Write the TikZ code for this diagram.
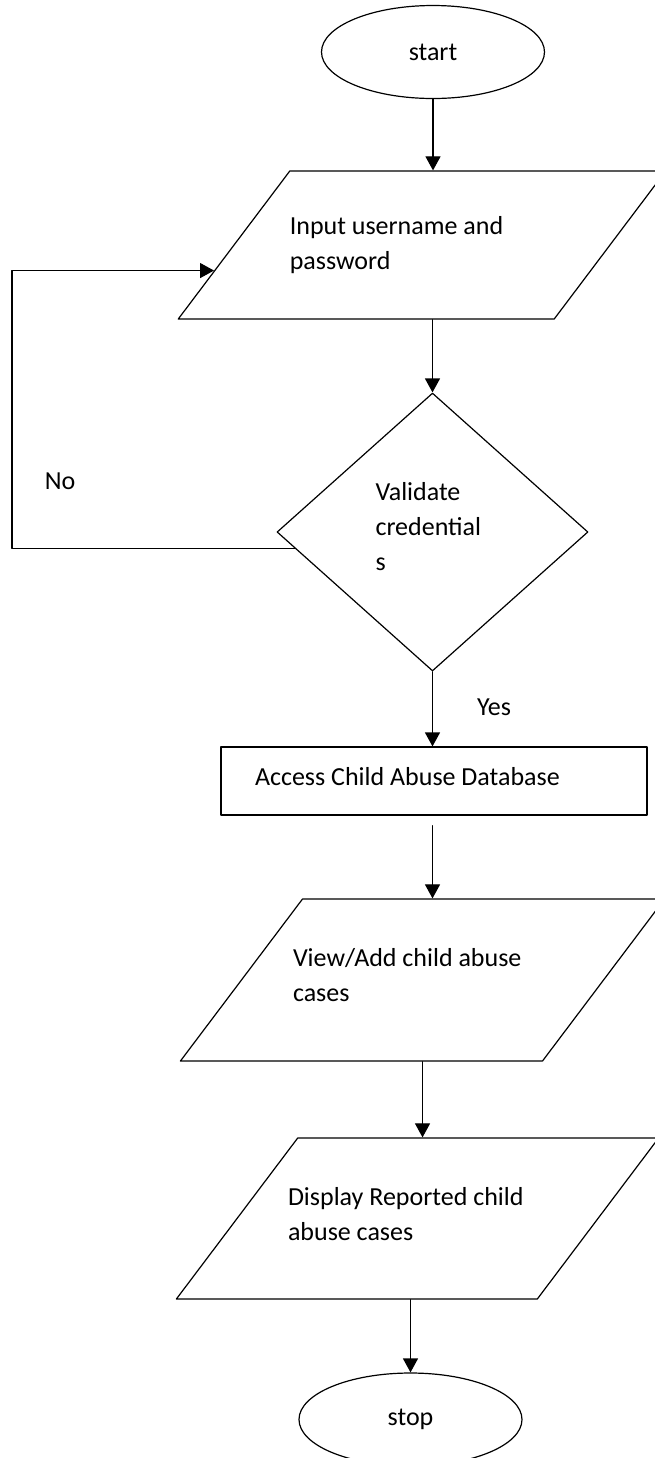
\documentclass[tikz,border=0pt]{standalone}
\usepackage{fontspec}
\setmainfont{Carlito}
\usetikzlibrary{arrows.meta,shapes.geometric}
\newcommand{\boxtext}[5]{\parbox[c][#1][c]{#2}{\raggedright\leftskip=#4 #5\par\vspace{#3}}}

\begin{document}
\begin{tikzpicture}[line cap=round,line join=round,x=0.5pt,y=-0.5pt,
  every node/.style={font=\fontsize{13}{17.5}\selectfont},
  terminal/.style={draw,ellipse,line width=0.6pt,minimum width=111.5pt,minimum height=46.5pt,inner sep=0pt},
  io/.style={draw,trapezium,trapezium left angle=53,trapezium right angle=127,line width=0.6pt,inner sep=0pt},
  decision/.style={draw,diamond,line width=0.6pt,inner sep=0pt},
  process/.style={draw,rectangle,line width=0.6pt,align=flush left,inner sep=0pt},
  flow/.style={-{Triangle[width=7.5pt,length=7pt]},line width=0.6pt}]
\fill[white] (0,0) rectangle (654,1458);
\useasboundingbox (0,0) rectangle (654,1458);
% shapes
\node[terminal] (start) at (433,52) {start};
\node[io] (inp) at (422,245) {\boxtext{74pt}{132.2pt}{0pt}{0pt}{Input username and\\password}};
\node[decision,minimum width=155.5pt,minimum height=139pt] (dec) at (432.5,532) {\boxtext{60pt}{57pt}{5pt}{0pt}{Validate\\credential\\s}};
\node[process,minimum width=213pt,minimum height=34pt,text width=179pt,text height=9.5pt,text depth=5pt] (db) at (434,781) {Access Child Abuse Database};
\node[io] (view) at (422.5,980) {\boxtext{81pt}{120pt}{5pt}{-4.75pt}{View/Add child abuse\\cases}};
\node[io] (disp) at (417.5,1218.5) {\boxtext{80.5pt}{119.8pt}{4pt}{-4.85pt}{Display Reported child\\abuse cases}};
\node[terminal] (stop) at (410.5,1419.5) {stop};
% labels
\node (no) at (60,481) {No};
\node (yes) at (494,707) {Yes};
% connectors
\coordinate (retry) at (12,272);
\draw[flow] (start) -- (start |- inp.north);
\draw[flow] (dec.north |- inp.south) -- (dec.north);
\draw[flow] (dec.south) -- (dec.south |- db.north);
\draw[flow,shorten <=5pt] (dec.south |- db.south) -- (dec.south |- view.north);
\draw[flow] (view.south) -- (view.south |- disp.north);
\draw[flow] (stop.north |- disp.south) -- (stop.north);
\draw[flow] (dec.187) -| (retry) |- (inp.187.5);
\end{tikzpicture}
\end{document}
